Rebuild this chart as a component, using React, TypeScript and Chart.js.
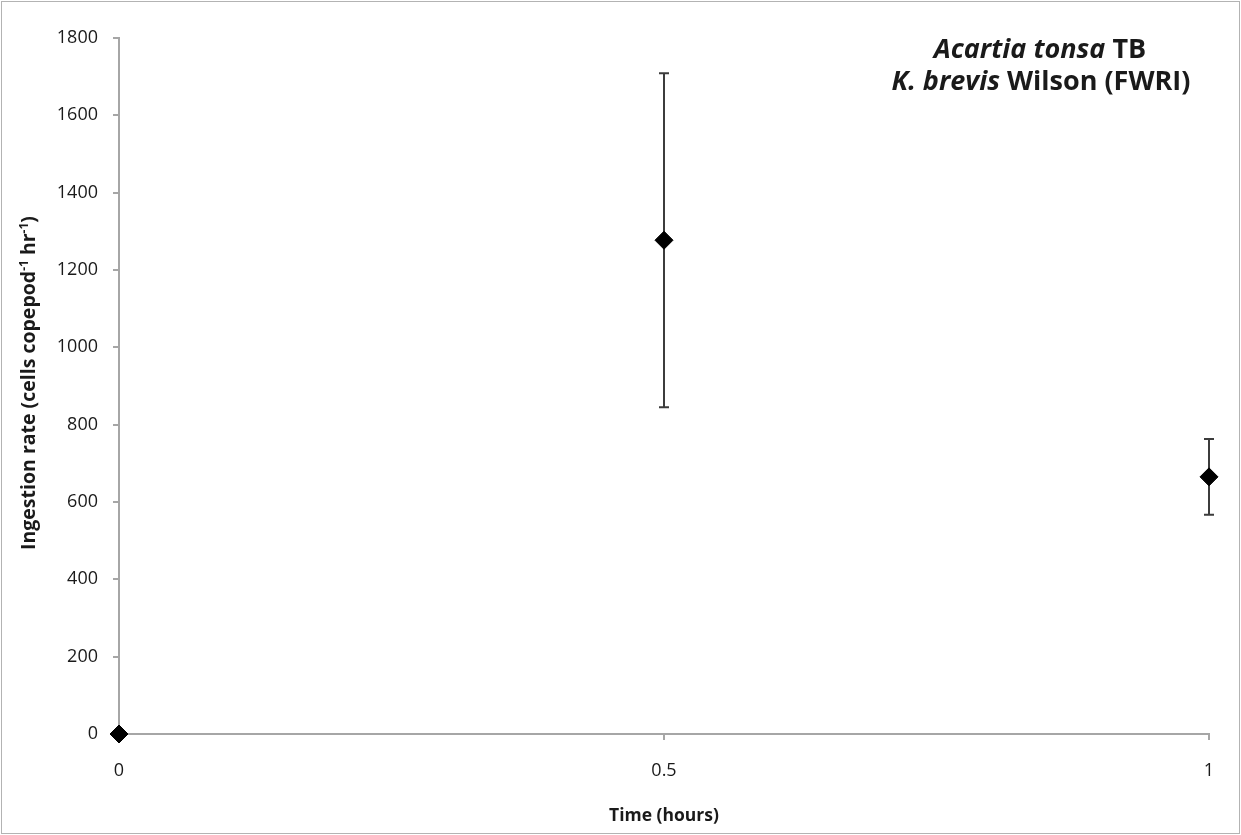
import React, { useEffect, useRef } from 'react';
import { Chart, registerables } from 'chart.js';

Chart.register(...registerables);

// ---- Data ----
const timeHours = [0, 0.5, 1];
const ingestionRate = [0, 1277, 665];
const ingestionError = [0, 432, 98];

const xTickValues = [0, 0.5, 1];
const yMin = 0;
const yMax = 1800;
const yStep = 200;

const titleLine1 = [
  { text: 'Acartia tonsa', italic: true },
  { text: ' TB', italic: false },
];
const titleLine2 = [
  { text: 'K. brevis', italic: true },
  { text: ' Wilson (FWRI)', italic: false },
];
const xAxisTitle = 'Time (hours)';
const yAxisTitleParts = [
  { text: 'Ingestion rate (cells copepod', sup: false },
  { text: '-1', sup: true },
  { text: ' hr', sup: false },
  { text: '-1', sup: true },
  { text: ')', sup: false },
];

const FONT = '"Open Sans", Lato, sans-serif';
const AXIS_GRAY = '#a6a6a6';
const TEXT = '#1a1a1a';

const decorPlugin = {
  id: 'decor',
  beforeDraw(chart: any) {
    const { ctx, width, height } = chart;
    ctx.save();
    ctx.fillStyle = '#ffffff';
    ctx.fillRect(0, 0, width, height);
    ctx.strokeStyle = '#b3b3b3';
    ctx.lineWidth = 1;
    ctx.strokeRect(1.5, 1.5, width - 3, height - 3);
    ctx.restore();
  },
  beforeDatasetsDraw(chart: any) {
    const { ctx, scales } = chart;
    const xs = scales.x;
    const ys = scales.y;
    ctx.save();
    ctx.strokeStyle = '#3c3c3c';
    ctx.lineWidth = 2;
    for (let i = 0; i < timeHours.length; i++) {
      const e = ingestionError[i];
      if (!e) continue;
      const px = Math.round(xs.getPixelForValue(timeHours[i]));
      const top = ys.getPixelForValue(ingestionRate[i] + e);
      const bot = ys.getPixelForValue(ingestionRate[i] - e);
      ctx.beginPath();
      ctx.moveTo(px, top);
      ctx.lineTo(px, bot);
      ctx.moveTo(px - 5, top);
      ctx.lineTo(px + 5, top);
      ctx.moveTo(px - 5, bot);
      ctx.lineTo(px + 5, bot);
      ctx.stroke();
    }
    ctx.restore();
  },
  afterDraw(chart: any) {
    const { ctx, chartArea } = chart;
    ctx.save();
    ctx.fillStyle = TEXT;
    ctx.textBaseline = 'alphabetic';
    ctx.textAlign = 'left';

    // Chart title (two lines, centered, mixed italic)
    const drawLine = (parts: { text: string; italic: boolean }[], cx: number, by: number, size: number) => {
      const fonts = parts.map((p) => `${p.italic ? 'italic ' : ''}bold ${size}px ${FONT}`);
      let total = 0;
      const widths = parts.map((p, i) => {
        ctx.font = fonts[i];
        const w = ctx.measureText(p.text).width;
        total += w;
        return w;
      });
      let x = cx - total / 2;
      parts.forEach((p, i) => {
        ctx.font = fonts[i];
        ctx.fillText(p.text, x, by);
        x += widths[i];
      });
    };
    drawLine(titleLine1, 1040, 58, 27);
    drawLine(titleLine2, 1041, 90, 27);

    // X axis title
    ctx.font = `bold 17.5px ${FONT}`;
    ctx.textAlign = 'center';
    ctx.fillText(xAxisTitle, (chartArea.left + chartArea.right) / 2, 821);

    // Y axis title (rotated, with superscripts)
    ctx.textAlign = 'left';
    ctx.translate(35, 383);
    ctx.rotate(-Math.PI / 2);
    const baseFont = `bold 19.5px ${FONT}`;
    const supFont = `bold 12px ${FONT}`;
    let total = 0;
    const ws = yAxisTitleParts.map((p) => {
      ctx.font = p.sup ? supFont : baseFont;
      const w = ctx.measureText(p.text).width;
      total += w;
      return w;
    });
    let x = -total / 2;
    yAxisTitleParts.forEach((p, i) => {
      ctx.font = p.sup ? supFont : baseFont;
      ctx.fillText(p.text, x, p.sup ? -7 : 0);
      x += ws[i];
    });
    ctx.restore();
  },
};

export default function App() {
  const canvasRef = useRef<HTMLCanvasElement | null>(null);

  useEffect(() => {
    document.body.style.margin = '0';
    const canvas = canvasRef.current;
    if (!canvas) return;
    const chart = new Chart(canvas, {
      type: 'scatter',
      data: {
        datasets: [
          {
            label: 'Ingestion rate',
            data: timeHours.map((t, i) => ({ x: t, y: ingestionRate[i] })),
            pointStyle: 'rectRot',
            pointRadius: 9,
            pointBorderWidth: 1,
            pointBackgroundColor: '#000000',
            pointBorderColor: '#000000',
            showLine: false,
            clip: false as any,
          },
        ],
      },
      options: {
        animation: false,
        responsive: true,
        maintainAspectRatio: false,
        layout: { padding: { left: 0, top: 38, right: 32, bottom: 0 } },
        plugins: {
          legend: { display: false },
          tooltip: { enabled: false },
          title: { display: false },
        },
        scales: {
          x: {
            type: 'linear',
            min: 0,
            max: 1,
            afterBuildTicks: (scale: any) => {
              scale.ticks = xTickValues.map((v) => ({ value: v }));
            },
            afterFit: (scale: any) => {
              scale.height = 101;
              scale.paddingLeft = 0;
              scale.paddingRight = 0;
            },
            ticks: {
              color: TEXT,
              font: { family: FONT, size: 18 },
              padding: 20,
              maxRotation: 0,
              callback: (v: any) => String(v),
            },
            grid: {
              display: true,
              drawOnChartArea: false,
              drawTicks: true,
              tickLength: 6,
              color: AXIS_GRAY,
              lineWidth: 2,
            },
            border: { display: true, color: AXIS_GRAY, width: 2 },
          },
          y: {
            type: 'linear',
            min: yMin,
            max: yMax,
            ticks: {
              stepSize: yStep,
              color: TEXT,
              font: { family: FONT, size: 18 },
              padding: 15,
              callback: (v: any) => String(v),
            },
            afterFit: (scale: any) => {
              scale.width = 119;
              scale.paddingTop = 0;
              scale.paddingBottom = 0;
            },
            grid: {
              display: true,
              drawOnChartArea: false,
              drawTicks: true,
              tickLength: 6,
              color: AXIS_GRAY,
              lineWidth: 2,
            },
            border: { display: true, color: AXIS_GRAY, width: 2 },
          },
        },
      },
      plugins: [decorPlugin],
    });
    return () => chart.destroy();
  }, []);

  return (
    <div style={{ position: 'absolute', left: 0, top: 0, width: 1241, height: 835 }}>
      <canvas ref={canvasRef} />
    </div>
  );
}
